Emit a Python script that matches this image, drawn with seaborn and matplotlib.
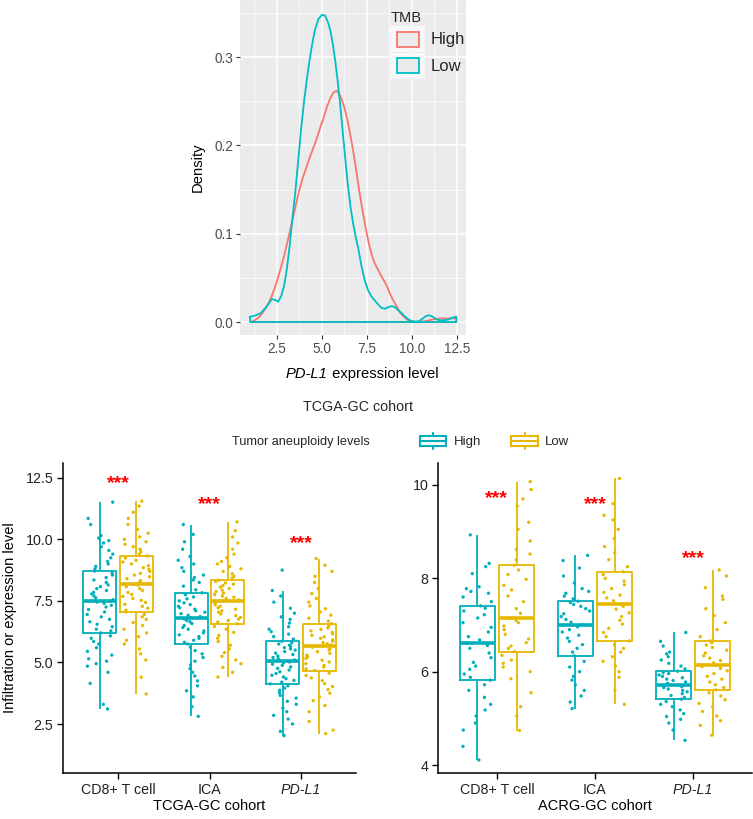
import numpy as np
import pandas as pd
import seaborn as sns
import matplotlib
matplotlib.use("Agg")
import matplotlib.pyplot as plt
from matplotlib.patches import Patch, Rectangle
from matplotlib.lines import Line2D
from matplotlib.legend_handler import HandlerBase
from matplotlib.offsetbox import TextArea, HPacker, AnchoredOffsetbox

# ---------------- data: density curves (PD-L1 by TMB) ----------------
tmb_levels = ["High", "Low"]
dens_high_x = [1.05, 1.25, 1.42, 1.65, 1.89, 2.10, 2.30, 2.50, 2.70, 2.90, 3.10, 3.30, 3.50, 3.70,
               3.90, 4.10, 4.30, 4.50, 4.70, 4.90, 5.10, 5.30, 5.50, 5.65, 5.80, 5.95, 6.10, 6.26,
               6.40, 6.54, 6.68, 6.82, 6.96, 7.10, 7.25, 7.38, 7.52, 7.66, 7.80, 7.94, 8.10, 8.22,
               8.36, 8.50, 8.64, 8.78, 8.92, 9.06, 9.20, 9.33, 9.50, 9.71, 9.90, 10.08, 10.30,
               10.54, 10.75, 10.95, 11.20, 11.48, 11.75, 12.03, 12.25, 12.46]
dens_high_y = [0.000, 0.002, 0.004, 0.009, 0.016, 0.024, 0.034, 0.046, 0.060, 0.075, 0.092, 0.110,
               0.128, 0.146, 0.161, 0.173, 0.185, 0.196, 0.207, 0.220, 0.232, 0.245, 0.255, 0.260,
               0.262, 0.259, 0.252, 0.242, 0.230, 0.216, 0.200, 0.183, 0.164, 0.145, 0.127, 0.112,
               0.097, 0.084, 0.074, 0.066, 0.060, 0.055, 0.050, 0.045, 0.039, 0.032, 0.026, 0.021,
               0.016, 0.011, 0.007, 0.003, 0.001, 0.0005, 0.000, 0.0005, 0.001, 0.002, 0.003,
               0.004, 0.004, 0.004, 0.004, 0.004]
dens_low_x = [1.01, 1.25, 1.60, 1.95, 2.22, 2.40, 2.57, 2.75, 2.91, 3.05, 3.20, 3.35, 3.51, 3.67,
              3.84, 4.02, 4.21, 4.40, 4.59, 4.80, 5.01, 5.17, 5.33, 5.47, 5.61, 5.75, 5.89, 6.03,
              6.17, 6.31, 6.45, 6.59, 6.73, 6.87, 7.01, 7.20, 7.38, 7.56, 7.75, 7.95, 8.12, 8.30,
              8.50, 8.70, 8.87, 9.05, 9.25, 9.43, 9.62, 9.80, 10.00, 10.17, 10.40, 10.60, 10.80,
              10.95, 11.15, 11.35, 11.55, 11.80, 12.03, 12.25, 12.46]
dens_low_y = [0.006, 0.007, 0.010, 0.018, 0.026, 0.025, 0.023, 0.030, 0.042, 0.060, 0.085, 0.115,
              0.145, 0.180, 0.218, 0.252, 0.282, 0.308, 0.329, 0.343, 0.348, 0.347, 0.340, 0.330,
              0.314, 0.294, 0.270, 0.243, 0.212, 0.182, 0.153, 0.130, 0.112, 0.097, 0.084, 0.063,
              0.047, 0.036, 0.029, 0.024, 0.020, 0.016, 0.015, 0.017, 0.018, 0.017, 0.013, 0.010,
              0.006, 0.003, 0.001, 0.0005, 0.001, 0.004, 0.007, 0.0076, 0.006, 0.003, 0.002,
              0.002, 0.003, 0.005, 0.006]

# ---------------- data: boxplots ----------------
categories = ["CD8+ T cell", "ICA", "PD-L1"]
groups = ["High", "Low"]

tcga_cd8_high = [3.11, 3.30, 4.15, 4.60, 4.85, 4.95, 5.05, 5.15, 5.30, 5.45, 5.60, 5.75, 5.85, 5.98, 6.08, 6.20,
                 6.28, 6.35, 6.45, 6.55, 6.65, 6.75, 6.85, 6.95, 7.05, 7.15, 7.25, 7.32, 7.40, 7.45, 7.49,
                 7.55, 7.62, 7.70, 7.78, 7.85, 7.92, 8.00, 8.08, 8.15, 8.25, 8.35, 8.45, 8.55, 8.63, 8.71,
                 8.80, 8.90, 9.00, 9.10, 9.25, 9.40, 9.55, 9.70, 9.85, 9.95, 10.05, 10.15, 10.60, 10.85, 11.51]
tcga_cd8_low = [3.72, 4.40, 5.10, 5.35, 5.55, 5.75, 5.90, 6.05, 6.20, 6.35, 6.50, 6.62, 6.75, 6.85, 6.95, 7.05,
                7.12, 7.20, 7.28, 7.36, 7.44, 7.52, 7.60, 7.68, 7.76, 7.84, 7.92, 8.00, 8.08, 8.14, 8.20,
                8.26, 8.33, 8.40, 8.48, 8.55, 8.62, 8.70, 8.78, 8.85, 8.93, 9.00, 9.08, 9.15, 9.24, 9.32,
                9.40, 9.50, 9.60, 9.70, 9.80, 9.90, 10.00, 10.10, 10.25, 10.40, 10.60, 10.85, 11.10, 11.35, 11.55]
tcga_ica_high = [2.81, 3.20, 3.60, 3.85, 4.05, 4.25, 4.45, 4.60, 4.75, 4.90, 5.05, 5.20, 5.35, 5.48, 5.62, 5.75,
                 5.82, 5.90, 5.98, 6.05, 6.12, 6.20, 6.28, 6.35, 6.42, 6.50, 6.58, 6.65, 6.70, 6.76, 6.81,
                 6.86, 6.92, 6.98, 7.04, 7.10, 7.16, 7.22, 7.28, 7.35, 7.42, 7.50, 7.58, 7.66, 7.75, 7.83,
                 7.95, 8.10, 8.25, 8.35, 8.45, 8.55, 8.70, 8.85, 9.00, 9.15, 9.30, 9.60, 9.90, 10.20, 10.60]
tcga_ica_low = [4.41, 4.60, 4.80, 4.95, 5.10, 5.25, 5.40, 5.55, 5.70, 5.85, 5.98, 6.10, 6.22, 6.35, 6.46, 6.57,
                6.64, 6.70, 6.76, 6.83, 6.90, 6.97, 7.04, 7.10, 7.16, 7.22, 7.28, 7.34, 7.40, 7.45, 7.49,
                7.54, 7.60, 7.65, 7.70, 7.76, 7.82, 7.88, 7.94, 8.00, 8.06, 8.12, 8.18, 8.23, 8.29, 8.34,
                8.42, 8.50, 8.60, 8.70, 8.80, 8.90, 9.00, 9.10, 9.25, 9.40, 9.60, 9.85, 10.10, 10.35, 10.71]
tcga_pdl1_high = [2.03, 2.20, 2.50, 2.70, 2.85, 3.00, 3.15, 3.30, 3.42, 3.55, 3.66, 3.77, 3.87, 3.96, 4.05, 4.13,
                  4.20, 4.27, 4.34, 4.41, 4.48, 4.55, 4.62, 4.69, 4.76, 4.82, 4.88, 4.93, 4.98, 5.02, 5.05,
                  5.10, 5.15, 5.20, 5.26, 5.32, 5.38, 5.44, 5.50, 5.55, 5.60, 5.65, 5.70, 5.75, 5.80, 5.86,
                  5.95, 6.05, 6.15, 6.25, 6.35, 6.45, 6.60, 6.75, 6.85, 7.00, 7.20, 7.45, 7.70, 7.92, 8.75]
tcga_pdl1_low = [2.11, 2.25, 2.60, 3.00, 3.25, 3.45, 3.60, 3.75, 3.90, 4.02, 4.14, 4.26, 4.37, 4.47, 4.57, 4.67,
                 4.74, 4.81, 4.88, 4.95, 5.02, 5.09, 5.16, 5.23, 5.30, 5.37, 5.44, 5.51, 5.57, 5.62, 5.66,
                 5.71, 5.76, 5.81, 5.86, 5.92, 5.98, 6.04, 6.10, 6.16, 6.22, 6.28, 6.34, 6.40, 6.48, 6.57,
                 6.68, 6.80, 6.92, 7.05, 7.18, 7.30, 7.45, 7.60, 7.80, 8.00, 8.25, 8.50, 8.70, 8.95, 9.22]

acrg_cd8_high = [4.11, 4.40, 4.75, 4.90, 5.05, 5.18, 5.30, 5.45, 5.60, 5.72, 5.82,
                 5.88, 5.95, 6.05, 6.12, 6.20, 6.30, 6.40, 6.50, 6.56, 6.61,
                 6.68, 6.75, 6.85, 6.95, 7.05, 7.15, 7.22, 7.30, 7.36, 7.41,
                 7.50, 7.60, 7.68, 7.72, 7.78, 7.82, 8.10, 8.25, 8.32, 8.93]
acrg_cd8_low = [4.74, 5.05, 5.25, 5.55, 5.85, 6.00, 6.10, 6.18, 6.25, 6.35, 6.43,
                6.50, 6.55, 6.62, 6.70, 6.80, 6.90, 6.98, 7.05, 7.10, 7.14,
                7.25, 7.35, 7.50, 7.62, 7.75, 7.85, 7.98, 8.08, 8.18, 8.28,
                8.40, 8.52, 8.62, 8.80, 9.05, 9.20, 9.55, 9.70, 9.90, 10.07]
acrg_ica_high = [5.21, 5.35, 5.48, 5.60, 5.72, 5.82, 5.90, 6.00, 6.10, 6.22, 6.34,
                 6.42, 6.50, 6.58, 6.65, 6.72, 6.78, 6.85, 6.90, 6.96, 7.01,
                 7.06, 7.12, 7.18, 7.24, 7.30, 7.35, 7.40, 7.44, 7.48, 7.51,
                 7.56, 7.62, 7.68, 7.72, 7.78, 7.90, 8.05, 8.22, 8.38, 8.49]
acrg_ica_low = [5.30, 5.60, 5.88, 6.00, 6.12, 6.22, 6.32, 6.42, 6.50, 6.58, 6.66,
                6.75, 6.84, 6.93, 7.02, 7.10, 7.18, 7.26, 7.34, 7.40, 7.46,
                7.52, 7.58, 7.64, 7.70, 7.78, 7.86, 7.94, 8.00, 8.08, 8.14,
                8.25, 8.40, 8.55, 8.68, 8.85, 9.05, 9.25, 9.35, 9.60, 10.14]
acrg_pdl1_high = [4.53, 4.75, 4.90, 4.98, 5.04, 5.10, 5.18, 5.25, 5.30, 5.36, 5.41,
                  5.45, 5.49, 5.53, 5.57, 5.60, 5.63, 5.66, 5.68, 5.70, 5.72,
                  5.75, 5.78, 5.81, 5.84, 5.87, 5.90, 5.93, 5.96, 5.98, 6.01,
                  6.06, 6.12, 6.18, 6.25, 6.32, 6.38, 6.42, 6.55, 6.65, 6.84]
acrg_pdl1_low = [4.64, 4.85, 4.95, 5.05, 5.15, 5.25, 5.32, 5.40, 5.48, 5.55, 5.61,
                 5.66, 5.72, 5.78, 5.84, 5.90, 5.96, 6.02, 6.07, 6.11, 6.14,
                 6.19, 6.24, 6.29, 6.34, 6.40, 6.46, 6.52, 6.57, 6.62, 6.66,
                 6.75, 6.90, 7.05, 7.20, 7.35, 7.55, 7.62, 7.80, 8.05, 8.18]

# significance labels (label height in data units)
sig_labels = ["***", "***", "***"]
sig_y_tcga = [12.25, 11.40, 9.82]
sig_y_acrg = [9.70, 9.59, 8.42]


def long_frame(series):
    rows = []
    for (cat, grp), vals in series.items():
        for v in vals:
            rows.append((cat, grp, v))
    return pd.DataFrame(rows, columns=["cell", "group", "value"])


df_tcga = long_frame({
    ("CD8+ T cell", "High"): tcga_cd8_high, ("CD8+ T cell", "Low"): tcga_cd8_low,
    ("ICA", "High"): tcga_ica_high, ("ICA", "Low"): tcga_ica_low,
    ("PD-L1", "High"): tcga_pdl1_high, ("PD-L1", "Low"): tcga_pdl1_low,
})
df_acrg = long_frame({
    ("CD8+ T cell", "High"): acrg_cd8_high, ("CD8+ T cell", "Low"): acrg_cd8_low,
    ("ICA", "High"): acrg_ica_high, ("ICA", "Low"): acrg_ica_low,
    ("PD-L1", "High"): acrg_pdl1_high, ("PD-L1", "Low"): acrg_pdl1_low,
})

# ---------------- styling ----------------
sns.set_style("white")
plt.rcParams["font.family"] = ["Liberation Sans", "DejaVu Sans"]

TMB_COLORS = {"High": "#F8766D", "Low": "#00BFC4"}
PAL = {"High": "#00AFBB", "Low": "#E7B800"}
W, H = 753, 819

fig = plt.figure(figsize=(W / 100, H / 100), dpi=100)

# ---------------- top: density panel ----------------
axd = fig.add_axes([240 / W, 1 - 335 / H, 226 / W, 335 / H])
axd.set_facecolor("#EBEBEB")
for lvl, xs, ys in [("High", dens_high_x, dens_high_y), ("Low", dens_low_x, dens_low_y)]:
    px = list(xs) + [xs[-1], xs[0], xs[0]]
    py = list(ys) + [0.0, 0.0, ys[0]]
    sns.lineplot(x=px, y=py, sort=False, estimator=None, color=TMB_COLORS[lvl],
                 linewidth=1.3, ax=axd, legend=False)
axd.set_xlim(0.45, 13.0)
axd.set_ylim(-0.0147, 0.3647)
axd.set_xticks([2.5, 5.0, 7.5, 10.0, 12.5])
axd.set_xticks([1.25, 3.75, 6.25, 8.75, 11.25], minor=True)
axd.set_yticks([0.0, 0.1, 0.2, 0.3])
axd.set_yticks([0.05, 0.15, 0.25, 0.35], minor=True)
axd.grid(which="major", color="white", linewidth=1.1)
axd.grid(which="minor", color="white", linewidth=0.5)
axd.set_axisbelow(True)
for s in axd.spines.values():
    s.set_visible(False)
axd.tick_params(which="major", length=3, width=0.8, color="#333333", labelsize=9.8,
                labelcolor="#4D4D4D", pad=2, bottom=True, left=True)
axd.tick_params(which="minor", length=0)
axd.set_xlabel("")
axd.set_ylabel("Density", fontsize=10.6, color="black", labelpad=7)

# x-axis title with italic gene name
xlab = HPacker(children=[TextArea("PD-L1", textprops=dict(fontsize=10.6, fontstyle="italic", color="black")),
                         TextArea(" expression level", textprops=dict(fontsize=10.6, color="black"))],
               sep=0, pad=0, align="baseline")
axd.add_artist(AnchoredOffsetbox(loc="upper center", child=xlab, pad=0, borderpad=0, frameon=False,
                                 bbox_to_anchor=(362 / W, 1 - 367 / H),
                                 bbox_transform=fig.transFigure))


class KeyHandler(HandlerBase):
    """ggplot-like density legend key: light key cell with an outlined square."""
    def create_artists(self, legend, orig_handle, xdescent, ydescent, width, height, fontsize, trans):
        c = orig_handle.get_edgecolor()
        x0, y0 = -xdescent, -ydescent
        cell = Rectangle((x0, y0), width, height, facecolor="#F7F7F7", edgecolor="none",
                         transform=trans)
        iw, ih = 0.62 * width, 0.58 * height
        inner = Rectangle((x0 + (width - iw) / 2, y0 + (height - ih) / 2), iw, ih,
                          facecolor="#EBEBEB", edgecolor=c, linewidth=1.3, transform=trans)
        return [cell, inner]


handles = [Patch(facecolor="#EBEBEB", edgecolor=TMB_COLORS[l]) for l in tmb_levels]
lg = axd.legend(handles, tmb_levels, title="TMB", loc="upper left",
                handler_map={Patch: KeyHandler()},
                bbox_to_anchor=(382 / W, 1 - 3 / H), bbox_transform=fig.transFigure,
                frameon=False, fontsize=12, title_fontsize=10.5,
                handlelength=2.1, handleheight=2.0, handletextpad=0.3,
                labelspacing=0.05, borderpad=0.0, alignment="left")

fig.text(358 / W, 1 - 407 / H, "TCGA-GC cohort", ha="center", va="center", fontsize=10.3)

# ---------------- bottom legend ----------------
class BoxHandler(HandlerBase):
    def create_artists(self, legend, orig_handle, xdescent, ydescent, width, height, fontsize, trans):
        c = orig_handle.get_edgecolor()
        x0, y0 = -xdescent, -ydescent
        cx = x0 + width / 2
        rect = Rectangle((x0, y0 + 0.18 * height), width, 0.64 * height, facecolor="white",
                         edgecolor=c, linewidth=1.5, transform=trans)
        med = Line2D([x0, x0 + width], [y0 + 0.5 * height] * 2, color=c, linewidth=1.5, transform=trans)
        w1 = Line2D([cx, cx], [y0, y0 + 0.18 * height], color=c, linewidth=1.5, transform=trans)
        w2 = Line2D([cx, cx], [y0 + 0.82 * height, y0 + height], color=c, linewidth=1.5, transform=trans)
        return [rect, med, w1, w2]


fig.text(232 / W, 1 - 442 / H, "Tumor aneuploidy levels", ha="left", va="center", fontsize=9.2)
box_handles = [Patch(facecolor="white", edgecolor=PAL[g]) for g in groups]
fig.legend(box_handles, groups, handler_map={Patch: BoxHandler()}, ncol=2, loc="center left",
           bbox_to_anchor=(420 / W, 1 - 441 / H), frameon=False, fontsize=9.5,
           handlelength=2.0, handleheight=1.6, handletextpad=0.55, columnspacing=2.3,
           borderpad=0, borderaxespad=0)

# ---------------- bottom: box + jitter panels ----------------
panels = [
    (df_tcga, [63 / W, 46 / H, 293 / W, 310 / H], (0.51, 13.1), [2.5, 5.0, 7.5, 10.0, 12.5],
     "TCGA-GC cohort", sig_y_tcga),
    (df_acrg, [438 / W, 46 / H, 314 / W, 310 / H], (3.83, 10.47), [4, 6, 8, 10],
     "ACRG-GC cohort", sig_y_acrg),
]
for i, (df, rect, ylim, yticks, xlabel, sig_y) in enumerate(panels):
    ax = fig.add_axes(rect)
    sns.boxplot(data=df, x="cell", y="value", hue="group", order=categories, hue_order=groups,
                palette=PAL, fill=False, width=0.8, gap=0.1, showfliers=False, linewidth=1.3,
                medianprops={"linewidth": 2.6}, capprops={"visible": False}, ax=ax, legend=False)
    sns.stripplot(data=df, x="cell", y="value", hue="group", order=categories, hue_order=groups,
                  palette=PAL, dodge=True, jitter=0.3, size=2.4, linewidth=0, ax=ax, legend=False)
    for j, (lab, yv) in enumerate(zip(sig_labels, sig_y)):
        ax.text(j, yv, lab, color="#FF0000", ha="center", va="center", fontsize=14, fontweight="bold")
    ax.set_xlim(-0.6, 2.6)
    ax.set_ylim(*ylim)
    ax.set_yticks(yticks)
    ax.set_xlabel(xlabel, fontsize=10.5, color="black", labelpad=2)
    ax.set_ylabel("Infiltration or expression level" if i == 0 else "", fontsize=10.5,
                  color="black", labelpad=6)
    for s in ["top", "right"]:
        ax.spines[s].set_visible(False)
    for s in ["left", "bottom"]:
        ax.spines[s].set_color("black")
        ax.spines[s].set_linewidth(1.1)
    ax.tick_params(axis="both", length=4, width=1.0, color="black", labelsize=10.3,
                   labelcolor="#222222", pad=3, bottom=True, left=True)
    for t in ax.get_xticklabels():
        if t.get_text() == "PD-L1":
            t.set_fontstyle("italic")

fig.savefig("out.png", dpi=100)
